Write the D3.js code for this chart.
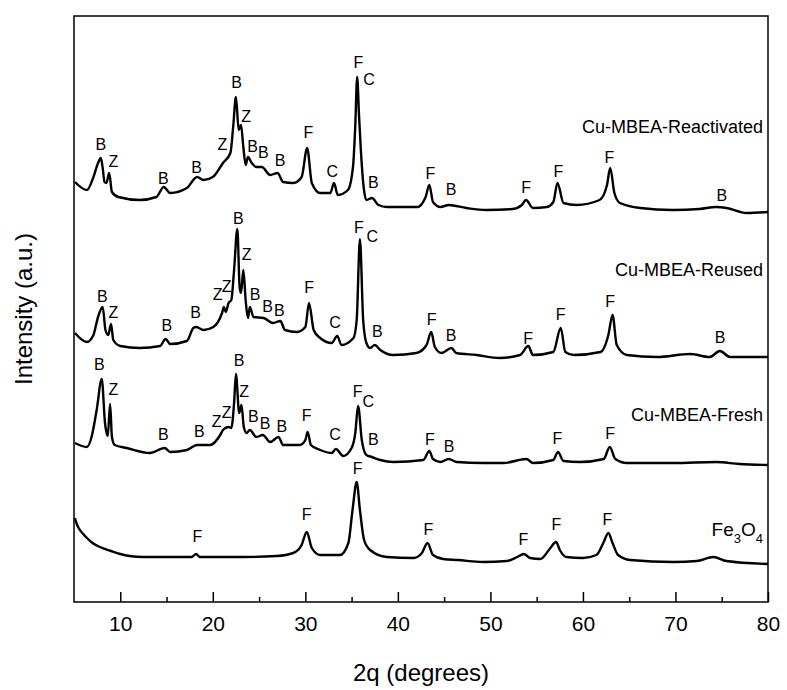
<!DOCTYPE html>
<html>
<head>
<meta charset="utf-8">
<script src="https://cdn.jsdelivr.net/npm/d3@7"></script>
<style>
  body { margin: 0; background: #fff; }
  svg { display: block; font-family: "Liberation Sans", Arial, sans-serif; }
</style>
</head>
<body>
<div id="chart"></div>
<script>
// 2theta (degrees), intensity (a.u., stacked as plotted)
const reactivatedPattern = [
  [5.1, 420], [6.4, 412], [7.1, 425], [7.6, 439], [7.9, 444], [8.1, 434], [8.3, 420], [8.5, 419],
  [8.8, 429], [9.1, 410], [9.8, 405], [12.1, 402], [13.9, 405], [14.7, 415], [15.4, 409], [17.2, 414],
  [18.3, 425], [19.0, 422], [20.0, 425], [21.1, 439], [21.9, 449], [22.2, 475], [22.5, 505], [22.8, 472],
  [23.05, 477], [23.3, 455], [23.55, 437], [23.8, 445], [24.2, 439], [24.7, 435], [25.3, 435], [26.2, 427],
  [27.0, 429], [27.6, 420], [28.7, 419], [29.6, 425], [30.2, 454], [30.7, 419], [31.6, 409], [32.7, 409],
  [33.1, 419], [33.5, 407], [34.6, 412], [35.15, 435], [35.4, 477], [35.6, 525], [35.8, 487], [36.0, 452],
  [36.3, 415], [36.6, 402], [37.2, 404], [37.9, 397], [38.8, 395], [42.1, 395], [43.0, 405], [43.4, 417],
  [43.8, 400], [44.6, 395], [45.5, 397], [47.4, 394], [49.6, 392], [52.4, 393], [53.4, 397], [53.85, 402],
  [54.6, 394], [56.1, 395], [56.8, 400], [57.25, 419], [57.9, 399], [59.3, 397], [61.8, 402], [62.6, 417],
  [62.95, 434], [63.4, 409], [64.0, 399], [66.2, 394], [69.7, 392], [72.6, 393], [74.4, 395], [75.5, 394],
  [77.7, 389], [80, 390]
];
const reusedPattern = [
  [5.1, 269], [6.4, 260], [7.1, 267], [7.6, 285], [8.1, 295], [8.4, 272], [8.7, 267], [9.0, 278],
  [9.25, 262], [10.0, 256], [12.1, 254], [14.3, 256], [14.9, 263], [15.4, 258], [17.2, 261], [17.9, 274],
  [18.2, 275], [19.0, 272], [20.05, 275], [21.0, 289], [21.2, 295], [21.4, 290], [21.7, 299], [22.0, 302],
  [22.3, 332], [22.65, 373], [22.9, 315], [23.05, 309], [23.3, 332], [23.55, 302], [23.8, 284], [24.0, 295],
  [24.4, 285], [25.5, 284], [26.5, 279], [27.3, 281], [27.8, 272], [29.1, 270], [30.0, 275], [30.4, 299],
  [30.9, 272], [31.6, 264], [32.85, 259], [33.45, 266], [33.9, 257], [35.2, 264], [35.55, 282], [35.9, 363],
  [36.25, 282], [36.6, 259], [37.0, 254], [37.5, 257], [38.1, 252], [39.5, 247], [42.0, 249], [43.1, 257],
  [43.6, 270], [44.0, 255], [44.7, 249], [45.8, 254], [46.3, 249], [48.5, 247], [51.0, 244], [53.2, 247],
  [54.1, 256], [54.6, 247], [56.8, 250], [57.6, 274], [58.1, 250], [59.0, 247], [61.9, 250], [62.75, 267],
  [63.2, 287], [63.65, 257], [64.75, 247], [68.0, 245], [71.6, 248], [73.7, 245], [74.8, 251], [75.9, 245],
  [80, 245]
];
const freshPattern = [
  [5.1, 159], [6.4, 155], [6.9, 165], [7.45, 192], [8.0, 223], [8.35, 179], [8.65, 166], [8.9, 198],
  [9.1, 165], [9.4, 157], [10.7, 154], [13.2, 149], [14.8, 154], [15.4, 150], [17.2, 152], [18.3, 157],
  [19.7, 157], [20.8, 167], [21.1, 172], [21.7, 175], [22.0, 174], [22.3, 199], [22.5, 228], [22.85, 189],
  [23.1, 197], [23.35, 175], [23.65, 169], [24.0, 172], [24.7, 165], [25.4, 167], [26.2, 160], [27.1, 165],
  [27.6, 157], [29.4, 157], [30.0, 162], [30.25, 170], [30.6, 157], [31.6, 152], [32.85, 149], [33.3, 153],
  [34.1, 146], [35.0, 154], [35.4, 169], [35.7, 196], [36.1, 162], [36.6, 147], [37.2, 145], [38.1, 142],
  [39.5, 140], [42.75, 142], [43.4, 151], [43.8, 143], [44.6, 140], [45.5, 143], [46.35, 140], [49.2, 139],
  [51.4, 139], [53.9, 143], [54.6, 139], [56.8, 142], [57.3, 150], [57.9, 141], [59.7, 140], [62.25, 143],
  [62.9, 155], [63.5, 143], [64.75, 139], [69.8, 139], [74.4, 140], [76.9, 138], [80, 137]
];
const fe3o4Pattern = [
  [5.1, 84], [5.3, 78], [5.5, 74], [6.0, 68], [6.4, 64], [7.0, 59], [7.8, 55], [9.0, 51],
  [10.0, 48], [11.0, 46], [12.5, 45], [16.1, 45], [17.7, 45], [18.2, 48], [18.6, 45], [23.3, 45],
  [26.9, 46], [28.7, 49], [29.6, 57], [30.15, 70], [30.7, 54], [31.6, 47], [33.75, 47], [34.65, 59],
  [35.1, 92], [35.55, 120], [35.9, 92], [36.35, 62], [37.0, 52], [38.8, 45], [41.7, 44], [42.6, 49],
  [43.2, 59], [43.8, 47], [44.9, 43], [46.5, 42], [49.2, 40], [51.8, 41], [52.9, 45], [53.6, 48],
  [54.3, 44], [55.4, 43], [56.4, 53], [57.1, 60], [57.5, 52], [58.2, 45], [60.0, 44], [61.45, 47],
  [62.2, 59], [62.75, 69], [63.2, 59], [63.8, 47], [65.1, 42], [69.8, 40], [72.3, 41], [74.1, 45],
  [75.5, 41], [80, 38]
];

// phase marks: [2theta, intensity, phase]
const reactivatedMarks = [
  [7.89, 452, "B"], [9.25, 435, "Z"], [14.65, 418, "B"], [18.26, 429, "B"], [21.03, 452, "Z"],
  [22.58, 514, "B"], [23.59, 480, "Z"], [24.31, 450, "B"], [25.46, 444, "B"], [27.26, 436, "B"],
  [30.32, 464, "F"], [32.92, 425, "C"], [35.73, 534, "F"], [36.88, 517, "C"], [37.35, 414, "B"],
  [43.51, 423, "F"], [45.74, 407, "B"], [53.85, 409, "F"], [57.34, 425, "F"], [62.85, 439, "F"],
  [75.0, 401, "B"]
];
const reusedMarks = [
  [8.06, 300, "B"], [9.25, 284, "Z"], [15.02, 271, "B"], [18.15, 284, "B"], [20.53, 302, "Z"],
  [21.5, 310, "Z"], [22.76, 378, "B"], [23.66, 342, "Z"], [24.56, 302, "B"], [25.93, 290, "B"],
  [27.19, 286, "B"], [30.4, 309, "F"], [33.21, 274, "C"], [35.8, 369, "F"], [37.24, 360, "C"],
  [37.78, 265, "B"], [43.66, 277, "F"], [45.74, 261, "B"], [54.09, 258, "F"], [57.6, 282, "F"],
  [62.93, 295, "F"], [74.81, 259, "B"]
];
const freshMarks = [
  [7.73, 232, "B"], [9.25, 207, "Z"], [14.65, 162, "B"], [18.54, 165, "B"], [20.42, 175, "Z"],
  [21.5, 184, "Z"], [22.83, 236, "B"], [23.4, 205, "Z"], [24.38, 180, "B"], [25.64, 173, "B"],
  [27.45, 170, "B"], [30.14, 181, "F"], [33.21, 162, "C"], [35.64, 205, "F"], [36.81, 195, "C"],
  [37.35, 157, "B"], [43.47, 157, "F"], [45.53, 150, "B"], [57.25, 158, "F"], [62.93, 163, "F"]
];
const fe3o4Marks = [
  [18.33, 60, "F"], [30.14, 82, "F"], [35.66, 128, "F"], [43.29, 67, "F"], [53.56, 57, "F"],
  [57.13, 72, "F"], [62.64, 77, "F"]
];

// sample names: [name, 2theta of right edge, intensity of baseline]
const sampleNames = [
  ["Cu-MBEA-Reactivated", 79.46, 469],
  ["Cu-MBEA-Reused", 79.46, 326],
  ["Cu-MBEA-Fresh", 79.46, 181]
];

const xMajorTicks = [10, 20, 30, 40, 50, 60, 70, 80];
const xMinorTicks = [15, 25, 35, 45, 55, 65, 75];

const width = 787;
const height = 690;
const margin = { top: 16, right: 19, bottom: 88, left: 74 };
const innerW = width - margin.left - margin.right;
const innerH = height - margin.top - margin.bottom;

const svg = d3.select("#chart")
  .append("svg")
  .attr("width", width)
  .attr("height", height);

const g = svg.append("g")
  .attr("transform", `translate(${margin.left},${margin.top})`);

const x = d3.scaleLinear().domain([5, 80]).range([0, innerW]);
const y = d3.scaleLinear().domain([0, innerH]).range([innerH, 0]);

const line = d3.line()
  .curve(d3.curveMonotoneX)
  .x(d => x(d[0]))
  .y(d => y(d[1]));

[fe3o4Pattern, freshPattern, reusedPattern, reactivatedPattern].forEach(p => {
  g.append("path")
    .datum(p)
    .attr("d", line)
    .attr("fill", "none")
    .attr("stroke", "#000")
    .attr("stroke-width", 2.4)
    .attr("stroke-linejoin", "round");
});

const marks = [].concat(reactivatedMarks, reusedMarks, freshMarks, fe3o4Marks);
g.selectAll(".mark")
  .data(marks)
  .enter()
  .append("text")
  .attr("class", "mark")
  .attr("x", d => x(d[0]))
  .attr("y", d => y(d[1]))
  .attr("text-anchor", "middle")
  .style("font-size", "16px")
  .text(d => d[2]);

g.selectAll(".name")
  .data(sampleNames)
  .enter()
  .append("text")
  .attr("class", "name")
  .attr("x", d => x(d[1]))
  .attr("y", d => y(d[2]))
  .attr("text-anchor", "end")
  .style("font-size", "18px")
  .text(d => d[0]);

const fe = g.append("text")
  .attr("x", x(79.46))
  .attr("y", y(66))
  .attr("text-anchor", "end")
  .style("font-size", "19px");
fe.append("tspan").text("Fe");
fe.append("tspan").attr("dy", 7).style("font-size", "13px").text("3");
fe.append("tspan").attr("dy", -7).text("O");
fe.append("tspan").attr("dy", 7).style("font-size", "13px").text("4");

// frame
g.append("rect")
  .attr("width", innerW)
  .attr("height", innerH)
  .attr("fill", "none")
  .attr("stroke", "#000")
  .attr("stroke-width", 1.5);

const xAxis = g.append("g")
  .attr("transform", `translate(0,${innerH})`)
  .call(d3.axisBottom(x).tickValues(xMajorTicks).tickSize(-10).tickPadding(14).tickFormat(d3.format("d")));
xAxis.select(".domain").remove();
xAxis.selectAll("line").attr("stroke-width", 1.5);
xAxis.selectAll("text")
  .attr("fill", "#000")
  .style("font-family", "'Liberation Sans Narrow', 'Arial Narrow', 'Liberation Sans', Arial, sans-serif")
  .style("font-size", "21px");

const xMinor = g.append("g")
  .attr("transform", `translate(0,${innerH})`)
  .call(d3.axisBottom(x).tickValues(xMinorTicks).tickSize(-5).tickFormat(""));
xMinor.select(".domain").remove();
xMinor.selectAll("line").attr("stroke-width", 1.5);

svg.append("text")
  .attr("x", margin.left + innerW / 2)
  .attr("y", 681)
  .attr("text-anchor", "middle")
  .style("font-size", "24px")
  .text("2q (degrees)");

svg.append("text")
  .attr("transform", `translate(32,${margin.top + innerH / 2}) rotate(-90)`)
  .attr("text-anchor", "middle")
  .style("font-size", "24px")
  .text("Intensity (a.u.)");
</script>
</body>
</html>
